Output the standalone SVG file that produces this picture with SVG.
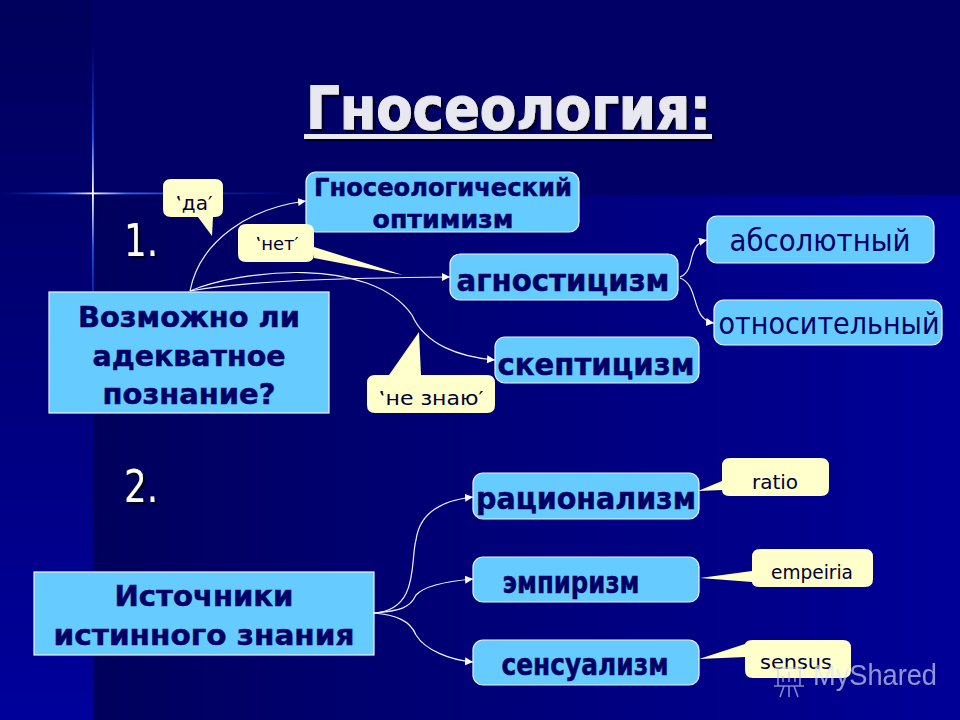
<svg xmlns="http://www.w3.org/2000/svg" width="960" height="720" viewBox="0 0 960 720">
<defs>
<style>
text{font-family:"DejaVu Sans","Liberation Sans",sans-serif;text-anchor:middle}
.box{fill:#66ccff;stroke:#e8f4ff;stroke-width:1.2}
.call{fill:#ffffcc}
.b{font-weight:bold;fill:#000066;stroke:#000066;stroke-width:.5;font-size:29px}
.r{fill:#000066;font-size:30px}
.c{fill:#000033;font-size:20px}
.con{fill:none;stroke:#f0f0ff;stroke-width:1.2}
.num{font-size:44px;fill:#fff;filter:url(#sh)}
</style>
<filter id="sh" x="-10%" y="-20%" width="125%" height="150%"><feDropShadow dx="2.500" dy="2.500" stdDeviation=".6" flood-color="#000022"/></filter>
<marker id="a" markerUnits="userSpaceOnUse" markerWidth="9" markerHeight="9" refX="8" refY="4" orient="auto"><path d="M0 0L8 4L0 8Z" fill="#fff"/></marker>
<linearGradient id="left" x1="0" x2="0" y1="0" y2="1"><stop offset="0" stop-color="#00005c"/><stop offset=".35" stop-color="#000070"/><stop offset="1" stop-color="#00009c"/></linearGradient>
<linearGradient id="panel" x1="0" x2="1" y1="0" y2="0"><stop offset="0" stop-color="#00005c"/><stop offset=".15" stop-color="#000066"/><stop offset="1" stop-color="#000098"/></linearGradient>
<linearGradient id="h" x1="0" x2="1" y1="0" y2="0"><stop offset="0" stop-color="#0033cc" stop-opacity="0"/><stop offset=".22" stop-color="#3366ee"/><stop offset=".31" stop-color="#ffffff"/><stop offset=".42" stop-color="#3366ee"/><stop offset="1" stop-color="#0033cc" stop-opacity="0"/></linearGradient>
<linearGradient id="v" x1="0" x2="0" y1="0" y2="1"><stop offset="0" stop-color="#0033cc" stop-opacity="0"/><stop offset=".32" stop-color="#1a55ee"/><stop offset=".5" stop-color="#ffffff"/><stop offset=".68" stop-color="#1a55ee"/><stop offset="1" stop-color="#0033cc" stop-opacity="0"/></linearGradient>
</defs>
<rect width="960" height="720" fill="#000066"/>
<rect x="0" y="0" width="93" height="720" fill="url(#left)"/>
<rect x="93" y="195" width="867" height="525" fill="url(#panel)"/>
<rect x="92" y="40" width="1.800" height="306" fill="url(#v)"/>
<rect x="0" y="192.500" width="300" height="1.800" fill="url(#h)"/>

<g id="title" style="filter:url(#sh)">
<text x="508.500" y="129" font-size="58" font-weight="bold" fill="#e8e8f0" stroke="#e8e8f0" stroke-width="1.200" textLength="405" lengthAdjust="spacingAndGlyphs">Гносеология:</text>
<rect x="304" y="134" width="408" height="5" fill="#e8e8f0"/>
</g>

<g id="connectors">
<path class="con" marker-end="url(#a)" d="M190 291C200 240 250 208 306 201"/>
<path class="con" marker-end="url(#a)" d="M190 291C250 280 350 278 450 277"/>
<path class="con" marker-end="url(#a)" d="M190 291C240 270 370 255 412 315C425 345 460 357 495 360"/>
<path class="con" marker-end="url(#a)" d="M680 277C697 270 685 245 707 240"/>
<path class="con" marker-end="url(#a)" d="M680 278C700 285 690 320 714 323"/>
<path class="con" marker-end="url(#a)" d="M374 613C420 610 410 560 416 540C420 510 445 500 473 497"/>
<path class="con" marker-end="url(#a)" d="M374 613C400 611 410 608 416 595C425 585 450 581 473 579"/>
<path class="con" marker-end="url(#a)" d="M374 613C395 615 410 620 416 635C425 650 450 660 473 662"/>
</g>

<g id="num1"><text class="num" x="141" y="256" textLength="34" lengthAdjust="spacingAndGlyphs">1.</text></g>
<g id="num2"><text class="num" x="141" y="502" textLength="34" lengthAdjust="spacingAndGlyphs">2.</text></g>

<g id="n-question"><rect class="box" x="49" y="292" width="280" height="121"/>
<text class="b" x="189" y="327" textLength="222" lengthAdjust="spacingAndGlyphs">Возможно ли</text>
<text class="b" x="189" y="366" textLength="193" lengthAdjust="spacingAndGlyphs">адекватное</text>
<text class="b" x="189" y="404" textLength="173" lengthAdjust="spacingAndGlyphs">познание?</text></g>

<g id="n-optimism"><rect class="box" x="306" y="172" width="273" height="60" rx="10"/>
<text class="b" x="443" y="196" style="font-size:25px" textLength="258" lengthAdjust="spacingAndGlyphs">Гносеологический</text>
<text class="b" x="443" y="228" style="font-size:25px" textLength="141" lengthAdjust="spacingAndGlyphs">оптимизм</text></g>

<g id="n-agnostic"><rect class="box" x="450" y="254" width="228" height="46" rx="10"/>
<text class="b" x="563" y="291" style="font-size:31px" textLength="213" lengthAdjust="spacingAndGlyphs">агностицизм</text></g>

<g id="n-skeptic"><rect class="box" x="495" y="337" width="204" height="46" rx="10"/>
<text class="b" x="596" y="375" style="font-size:31px" textLength="197" lengthAdjust="spacingAndGlyphs">скептицизм</text></g>

<g id="n-absolute"><rect class="box" x="707" y="216" width="227" height="47" rx="10"/>
<text class="r" x="820" y="251" textLength="181" lengthAdjust="spacingAndGlyphs">абсолютный</text></g>

<g id="n-relative"><rect class="box" x="714" y="300" width="228" height="45" rx="10"/>
<text class="r" x="829" y="334" textLength="221" lengthAdjust="spacingAndGlyphs">относительный</text></g>

<g id="n-sources"><rect class="box" x="34" y="572" width="340" height="83"/>
<text class="b" x="204" y="606" textLength="179" lengthAdjust="spacingAndGlyphs">Источники</text>
<text class="b" x="204" y="645" textLength="301" lengthAdjust="spacingAndGlyphs">истинного знания</text></g>

<g id="n-rationalism"><rect class="box" x="473" y="473" width="226" height="46" rx="10"/>
<text class="b" x="586" y="509" style="font-size:31px" textLength="220" lengthAdjust="spacingAndGlyphs">рационализм</text></g>

<g id="n-empirism"><rect class="box" x="473" y="557" width="226" height="45" rx="10"/>
<text class="b" x="571" y="593" style="font-size:31px" textLength="137" lengthAdjust="spacingAndGlyphs">эмпиризм</text></g>

<g id="n-sensualism"><rect class="box" x="473" y="640" width="226" height="45" rx="10"/>
<text class="b" x="585" y="675" style="font-size:31px" textLength="167" lengthAdjust="spacingAndGlyphs">сенсуализм</text></g>

<g id="c-da"><path class="call" d="M171 179H215Q223 179 223 187V209Q223 217 215 217H213L212 236L198 217H171Q163 217 163 209V187Q163 179 171 179Z"/>
<text class="c" x="194" y="210">‛да′</text></g>

<g id="c-net"><path class="call" d="M246 224H306Q314 224 314 232V247L403 275L314 258V254Q314 262 306 262H246Q238 262 238 254V232Q238 224 246 224Z"/>
<text class="c" x="277" y="250" style="font-size:18px">‛нет′</text></g>

<g id="c-dunno"><path class="call" d="M375 375H389L419 332L421 375H487Q495 375 495 383V405Q495 413 487 413H375Q367 413 367 405V383Q367 375 375 375Z"/>
<text class="c" x="431" y="405" textLength="105" lengthAdjust="spacingAndGlyphs">‛не знаю′</text></g>

<g id="c-ratio"><path class="call" d="M730 458H821Q829 458 829 466V488Q829 496 821 496H730Q722 496 722 490L698 491L722 481V466Q722 458 730 458Z"/>
<text class="c" x="775" y="489">ratio</text></g>

<g id="c-empeiria"><path class="call" d="M760 549H865Q873 549 873 557V579Q873 587 865 587H760Q752 587 752 582L700 578L752 571V557Q752 549 760 549Z"/>
<text class="c" x="812" y="579" textLength="82" lengthAdjust="spacingAndGlyphs">empeiria</text></g>

<g id="c-sensus"><path class="call" d="M753 640H843Q851 640 851 648V670Q851 678 843 678H753Q745 678 745 670V657L699 659L745 644Q746 640 753 640Z"/>
<text class="c" x="796" y="669" textLength="72" lengthAdjust="spacingAndGlyphs">sensus</text></g>

<g id="watermark" opacity=".65">
<path d="M775 668H803M778 668V686H800V668M774 686H804M784 686L780 697M789 686V697M794 686L798 697M783 682V676M789 682V672M795 682V678" fill="none" stroke="#c8d0e8" stroke-width="1.600"/>
<text x="875" y="685" font-size="30" fill="#dde4f4" style="font-family:'Liberation Sans',sans-serif" textLength="124" lengthAdjust="spacingAndGlyphs">MyShared</text></g>
</svg>
